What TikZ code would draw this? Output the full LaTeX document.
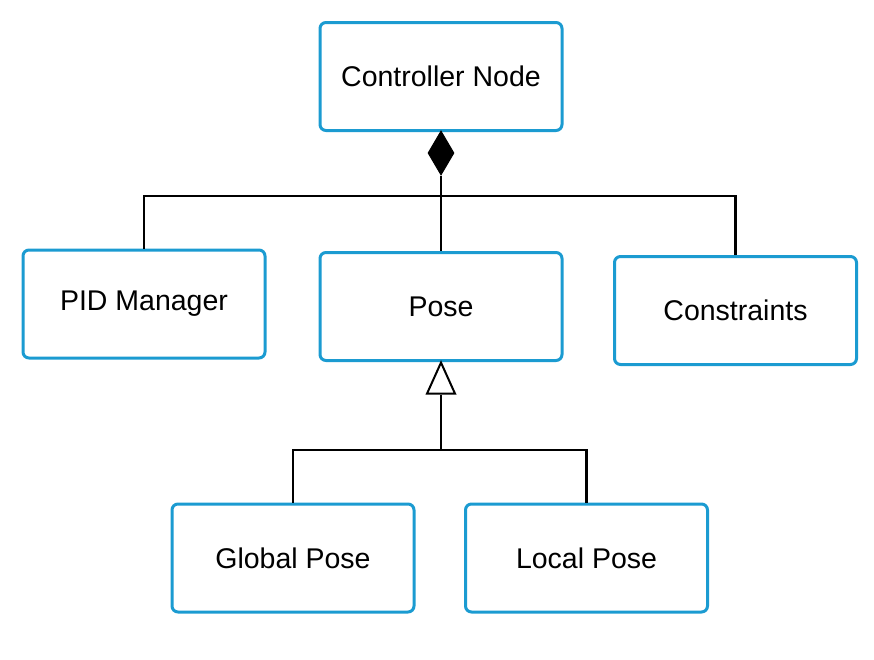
\documentclass[tikz,border=0pt]{standalone}
\usepackage{fontspec}
\setmainfont{Liberation Sans}
\usetikzlibrary{shapes.geometric}
\definecolor{boxblue}{HTML}{1B9BD1}
\begin{document}
\begin{tikzpicture}[x=1pt,y=-1pt,
  cls/.style={draw=boxblue,line width=3pt,rounded corners=6pt,fill=white,
    minimum width=242pt,minimum height=108pt,inner sep=0pt,
    font=\fontsize{28.5}{34}\selectfont},
  conn/.style={draw=black,line width=2.8pt},
  comp/.style={diamond,draw=black,fill=black,line width=1pt,inner sep=0pt,
    minimum width=26pt,minimum height=44pt},
  gen/.style={isosceles triangle,shape border rotate=90,isosceles triangle stretches,
    draw=black,fill=white,line width=2pt,inner sep=0pt,minimum width=28pt,minimum height=31pt}]
\useasboundingbox (0,0) rectangle (874,659);
\node[cls] (ctrl) at (441,76.5) {Controller Node};
\node[cls] (pid) at (144,304) {PID Manager};
\node[cls] (pose) at (441,306.5) {Pose};
\node[cls] (cons) at (735.5,310.5) {Constraints};
\node[cls] (glob) at (293,558) {Global Pose};
\node[cls] (loc) at (586.5,558) {Local Pose};
\coordinate (bus) at (441,196);
\coordinate (bus2) at (441,450);
\node[comp,anchor=north] (dia) at ([yshift=1.5pt]ctrl.south) {};
\node[gen,anchor=apex] (tri) at ([yshift=2pt]pose.south) {};
\draw[conn] (dia.south) -- (pose.north);
\draw[conn] (pid.north) -- (pid.north |- bus) -- (cons.north |- bus) -- (cons.north);
\draw[conn] (tri.south) -- (bus2);
\draw[conn] (glob.north) -- (glob.north |- bus2) -- (loc.north |- bus2) -- (loc.north);
\end{tikzpicture}
\end{document}
